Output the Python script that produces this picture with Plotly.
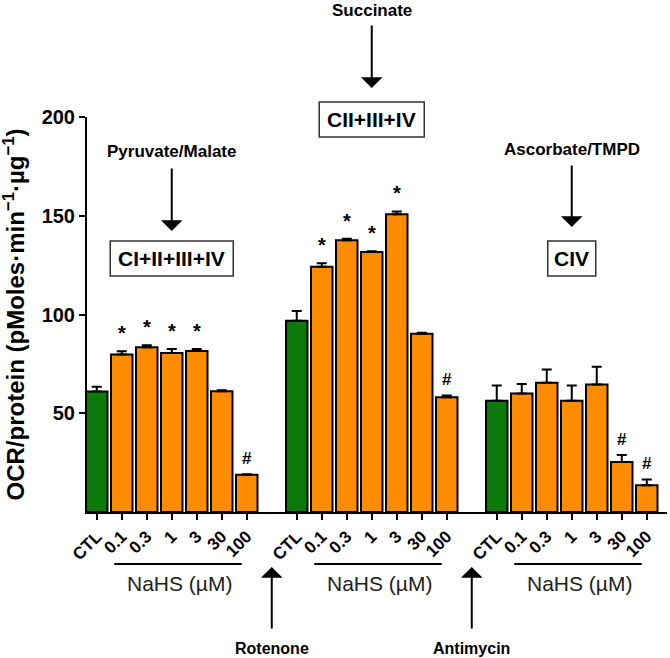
import plotly.graph_objects as go

# ---------------- data ----------------
categories = ["CTL", "0.1", "0.3", "1", "3", "30", "100"]
complex_labels = ["CI+II+III+IV", "CII+III+IV", "CIV"]
substrates = ["Pyruvate/Malate", "Succinate", "Ascorbate/TMPD"]
inhibitors = ["Rotenone", "Antimycin"]

ocr_g1 = [61.0, 79.8, 83.4, 80.5, 81.5, 61.2, 18.8]
err_g1 = [2.4, 1.6, 1.0, 2.0, 1.0, 0.5, 0.3]
sig_g1 = ["", "*", "*", "*", "*", "", "#"]

ocr_g2 = [96.8, 124.2, 137.6, 131.6, 150.8, 90.3, 58.1]
err_g2 = [5.0, 1.7, 0.8, 0.4, 1.4, 0.5, 0.9]
sig_g2 = ["", "*", "*", "*", "*", "", "#"]

ocr_g3 = [56.3, 60.0, 65.5, 56.3, 64.6, 25.3, 13.5]
err_g3 = [7.8, 4.8, 6.6, 7.8, 8.9, 3.6, 3.0]
sig_g3 = ["", "", "", "", "", "#", "#"]

ytick_vals = [50, 100, 150, 200]
y_title = "OCR/protein (pMoles·min<sup>−1</sup>·µg<sup>−1</sup>)"
conc_label = "NaHS (µM)"

# ---------------- styling / layout constants ----------------
FONT = "Liberation Sans, Arial, Helvetica, sans-serif"
GREEN = "#0b7a0b"
ORANGE = "#ff8c00"
W, H = 670, 658
ML, MR, MT, MB = 87, 3, 117, 146
X_RANGE = [-0.39, 22.81]
Y_RANGE = [0, 200]
SLOTS_PER_GROUP = 8
BAR_W = 0.86

plot_h = H - MT - MB


def py(pix):  # pixel row -> paper y
    return (H - MB - pix) / plot_h


def px(slot):  # data x -> paper x
    return (slot - X_RANGE[0]) / (X_RANGE[1] - X_RANGE[0])


vals = [ocr_g1, ocr_g2, ocr_g3]
errs = [err_g1, err_g2, err_g3]
sigs = [sig_g1, sig_g2, sig_g3]

xs_ctl, ys_ctl, es_ctl = [], [], []
xs_trt, ys_trt, es_trt = [], [], []
tickvals, ticktext = [], []
for gi in range(3):
    for i, cat in enumerate(categories):
        x = gi * SLOTS_PER_GROUP + i
        tickvals.append(x)
        ticktext.append(cat)
        if i == 0:
            xs_ctl.append(x); ys_ctl.append(vals[gi][i]); es_ctl.append(errs[gi][i])
        else:
            xs_trt.append(x); ys_trt.append(vals[gi][i]); es_trt.append(errs[gi][i])

fig = go.Figure()
for xs, ys, es, col in [(xs_ctl, ys_ctl, es_ctl, GREEN), (xs_trt, ys_trt, es_trt, ORANGE)]:
    fig.add_trace(go.Bar(
        x=xs, y=ys, width=BAR_W,
        marker=dict(color=col, line=dict(color="black", width=2)),
        error_y=dict(type="data", symmetric=False, array=es, arrayminus=[0] * len(es),
                     color="black", thickness=2, width=5),
        showlegend=False, hoverinfo="skip",
    ))

annotations = []
shapes = []

# significance marks
for gi in range(3):
    for i, s in enumerate(sigs[gi]):
        if not s:
            continue
        top = vals[gi][i] + errs[gi][i]
        annotations.append(dict(
            x=gi * SLOTS_PER_GROUP + i, y=top + (2.5 if s == "*" else 8),
            xref="x", yref="y", text=s, showarrow=False,
            yanchor="middle" if s == "#" else "bottom",
            font=dict(family=FONT, size=20 if s == "*" else 17, color="black", weight="bold"),
        ))

# y axis title
annotations.append(dict(
    x=0, y=0.5, xref="paper", yref="paper", xshift=-74, text=y_title,
    textangle=-90, showarrow=False, xanchor="center", yanchor="middle",
    font=dict(family=FONT, size=24, color="black", weight="bold"),
))

# NaHS lines and labels
for gi in range(3):
    base = gi * SLOTS_PER_GROUP
    shapes.append(dict(type="line", xref="paper", yref="paper",
                       x0=px(base + 0.7), x1=px(base + 5.8), y0=py(564), y1=py(564),
                       line=dict(color="black", width=2)))
    annotations.append(dict(x=base + 3.3, y=py(583), xref="x", yref="paper",
                            text=conc_label, showarrow=False, yanchor="middle",
                            font=dict(family=FONT, size=21, color="#222222")))

# inhibitor arrows (from below)
for k, name in enumerate(inhibitors):
    xg = (k + 1) * SLOTS_PER_GROUP - 1
    annotations.append(dict(x=xg, y=py(567), xref="x", yref="paper", text="",
                            showarrow=True, ax=0, ay=63, arrowhead=1, arrowsize=1.8,
                            arrowwidth=2, arrowcolor="black", standoff=0))
    annotations.append(dict(x=xg, y=py(648), xref="x", yref="paper", text=name,
                            showarrow=False, yanchor="middle",
                            font=dict(family=FONT, size=16, color="black", weight="bold")))

# substrates, arrows and complex boxes (above)
sub_y = [151.7, 10, 149.5]
tail_y = [167, 24, 164]
head_y = [231, 88, 227]
box_c = [258.5, 119.5, 258.5]
box_w = [123, 105, 48]
box_h = 35
for gi in range(3):
    xc = gi * SLOTS_PER_GROUP + 3
    annotations.append(dict(x=xc, y=py(sub_y[gi]), xref="x", yref="paper", text=substrates[gi],
                            showarrow=False, yanchor="middle",
                            font=dict(family=FONT, size=17, color="black", weight="bold")))
    annotations.append(dict(x=xc, y=py(head_y[gi]), xref="x", yref="paper", text="",
                            showarrow=True, ax=0, ay=-(head_y[gi] - tail_y[gi]), arrowhead=1,
                            arrowsize=1.8, arrowwidth=2, arrowcolor="black", standoff=0))
    annotations.append(dict(x=xc, y=py(box_c[gi]), xref="x", yref="paper", text=complex_labels[gi],
                            showarrow=False, yanchor="middle",
                            font=dict(family=FONT, size=21, color="black", weight="bold")))
    shapes.append(dict(type="rect", xref="paper", yref="paper",
                       x0=px(xc) - box_w[gi] / 2 / (W - ML - MR),
                       x1=px(xc) + box_w[gi] / 2 / (W - ML - MR),
                       y0=py(box_c[gi] + box_h / 2), y1=py(box_c[gi] - box_h / 2),
                       line=dict(color="#333333", width=1.5)))

fig.update_layout(
    width=W, height=H,
    margin=dict(l=ML, r=MR, t=MT, b=MB, autoexpand=False),
    paper_bgcolor="white", plot_bgcolor="white",
    barmode="overlay", hovermode=False,
    font=dict(family=FONT, color="black"),
    annotations=annotations, shapes=shapes,
    xaxis=dict(range=X_RANGE, tickvals=tickvals, ticktext=ticktext, tickangle=-45,
               showline=True, linecolor="black", linewidth=2, ticks="outside",
               ticklen=6, tickwidth=2, tickcolor="black", showgrid=False, zeroline=False,
               tickfont=dict(family=FONT, size=17, color="black", weight="bold")),
    yaxis=dict(range=Y_RANGE, tickvals=ytick_vals, showline=True, linecolor="black",
               linewidth=2, ticks="outside", ticklen=6, tickwidth=2, tickcolor="black",
               showgrid=False, zeroline=False,
               tickfont=dict(family=FONT, size=20, color="black", weight="bold")),
)

fig.write_html("out.html", config={"displayModeBar": False},
               post_script="document.body.style.margin='0px';")
